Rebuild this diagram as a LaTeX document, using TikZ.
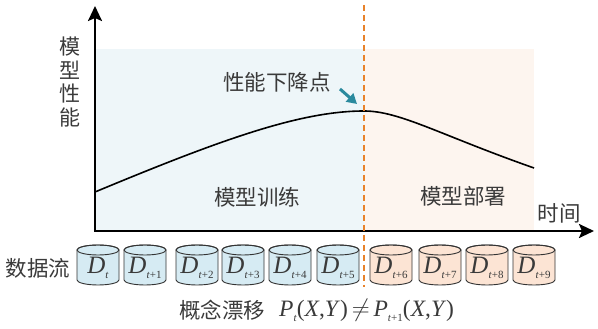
\documentclass[tikz,border=0pt]{standalone}
\usepackage{fontspec}
\setmainfont{Liberation Serif}
\newfontfamily\cjk{Noto Sans CJK SC}
\usetikzlibrary{arrows.meta}
\definecolor{txt}{HTML}{3A3A3A}
\definecolor{bgblue}{HTML}{EEF6F9}
\definecolor{bgpeach}{HTML}{FDF5EF}
\definecolor{cylblue}{HTML}{D6EBF3}
\definecolor{cylpeach}{HTML}{FCE4D4}
\definecolor{teal}{HTML}{2A8A9E}
\definecolor{orng}{HTML}{E8822A}
\definecolor{cylline}{HTML}{333333}
\newcommand\drum[4]{% x, fill, name, subscript
  \filldraw[fill=#2, draw=cylline, line width=0.9pt]
    (#1-21,79) -- (#1-21,49) arc[start angle=180, end angle=360, x radius=21, y radius=5]
    -- (#1+21,79) arc[start angle=0, end angle=180, x radius=21, y radius=5] -- cycle;
  \draw[cylline, line width=0.9pt] (#1,79) ellipse[x radius=21, y radius=5];
  \node[dlabel] (#3) at (#1,61) {\textit{D}\raisebox{-5pt}{\fontsize{11}{11}\selectfont #4}};
}
\tikzset{
  cjktext/.style={font=\cjk\fontsize{21.5}{24}\selectfont, text=txt, inner sep=0pt},
  dlabel/.style={font=\fontsize{25}{25}\selectfont, text=txt, inner sep=0pt},
  axis/.style={line width=2.4pt, -{Stealth[length=15pt,width=14pt,inset=3pt]}},
}
\begin{document}
\begin{tikzpicture}[x=1pt,y=1pt]
\useasboundingbox (0,0) rectangle (598,329);
% background regions
\fill[bgblue] (95,98) rectangle (364,280);
\fill[bgpeach] (364,98) rectangle (534,280);
% curve
\draw[line width=1.6pt, black] (95,137) .. controls (220,189) and (300,218) .. (364,218)
  .. controls (400,218) and (440,194) .. (534,161);
% axes
\coordinate (O) at (95,98);
\coordinate (Ytop) at (95,323);
\coordinate (Xend) at (594,98);
\draw[axis] (O) -- (Ytop);
\draw[axis] ([xshift=-1.2pt]O) -- (Xend);
% dashed split line
\coordinate (Dtop) at (364,324);
\coordinate (Dbot) at (364,42);
\draw[orng, line width=1.8pt, dash pattern=on 6pt off 4pt] (Dtop) -- (Dbot);
% labels
\node[cjktext, align=center, font=\cjk\fontsize{21}{23.5}\selectfont] (ylab) at (70,247) {模\\型\\性\\能};
\node[cjktext] (drop) at (277,247) {性能下降点};
\coordinate (peak) at (357,225);
\draw[teal, line width=3pt, -{Triangle[length=10pt,width=11pt]}] (340,240) -- (peak);
\node[cjktext] (train) at (257,132) {模型训练};
\node[cjktext] (deploy) at (463,133) {模型部署};
\node[cjktext] (time) at (559,116) {时间};
\node[cjktext] (stream) at (38,61) {数据流};
% cylinders
\drum{98}{cylblue}{c0}{\textit{t}}
\drum{145}{cylblue}{c1}{\textit{t}+1}
\drum{197}{cylblue}{c2}{\textit{t}+2}
\drum{243}{cylblue}{c3}{\textit{t}+3}
\drum{290}{cylblue}{c4}{\textit{t}+4}
\drum{338}{cylblue}{c5}{\textit{t}+5}
\drum{391}{cylpeach}{c6}{\textit{t}+6}
\drum{440}{cylpeach}{c7}{\textit{t}+7}
\drum{487}{cylpeach}{c8}{\textit{t}+8}
\drum{534}{cylpeach}{c9}{\textit{t}+9}
% formula
\node[cjktext] (drift) at (222,19) {概念漂移};
\node[anchor=west, inner sep=0pt, text=txt, font=\fontsize{23.5}{24}\selectfont] (formula) at (279,19)
  {\textit{P}\raisebox{-5pt}{\fontsize{11}{11}\selectfont\textit{t}}(\textit{X},\textit{Y})\,$\neq$\,\textit{P}\raisebox{-5pt}{\fontsize{11}{11}\selectfont\textit{t}+1}(\textit{X},\textit{Y})};
\end{tikzpicture}
\end{document}
